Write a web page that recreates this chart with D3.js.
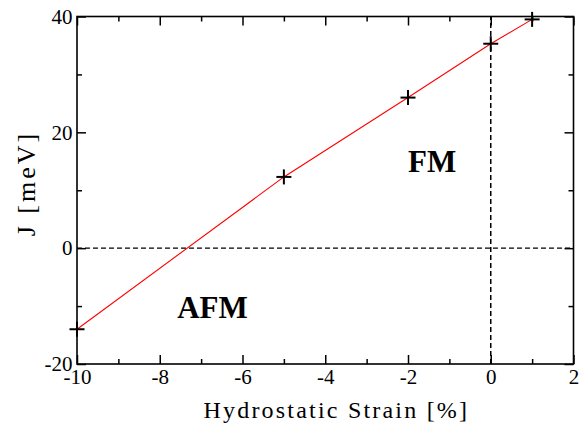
<!DOCTYPE html>
<html>
<head>
<meta charset="utf-8">
<script src="https://cdn.jsdelivr.net/npm/d3@7"></script>
</head>
<body style="margin:0;background:#fff">
<svg id="chart" width="582" height="423" style="display:block"></svg>
<script>
const strain = [-10, -5, -2, 0, 1];
const exchangeJ = [-14.0, 12.3, 26.0, 35.3, 39.5];
const xTicks = [-10, -8, -6, -4, -2, 0, 2];
const yTicks = [-20, 0, 20, 40];
const xMinor = [-9, -7, -5, -3, -1, 1];
const yMinor = [-10, 10, 30];
const regionLabels = [
  { text: "FM", x: -2.0, y: 13.2 },
  { text: "AFM", x: -7.58, y: -12.1 }
];
const xTitle = "Hydrostatic Strain [%]";
const yTitle = "J [meV]";

const FONT = "'Liberation Serif', 'Times New Roman', serif";
const svg = d3.select("#chart");
const L = 77, R = 573.5, T = 16.5, B = 364;
const x = d3.scaleLinear().domain([-10, 2]).range([L, R]);
const y = d3.scaleLinear().domain([-20, 40]).range([B, T]);
const fmt = d => String(d);

// zero reference lines
const dash = "5,3";
svg.append("line").attr("x1", x(-10)).attr("x2", x(2)).attr("y1", y(0)).attr("y2", y(0))
  .attr("stroke", "#000").attr("stroke-width", 1.2).attr("stroke-dasharray", dash);
svg.append("line").attr("x1", x(0)).attr("x2", x(0)).attr("y1", y(-20)).attr("y2", y(40))
  .attr("stroke", "#000").attr("stroke-width", 1.5).attr("stroke-dasharray", dash);

// data line
const pts = strain.map((s, i) => [s, exchangeJ[i]]);
svg.append("path").datum(pts)
  .attr("d", d3.line().x(d => x(d[0])).y(d => y(d[1])))
  .attr("fill", "none").attr("stroke", "#ff0000").attr("stroke-width", 1.1);

// plus markers
const ms = 7.5;
const g = svg.append("g");
pts.forEach(d => {
  const cx = x(d[0]), cy = y(d[1]);
  g.append("line").attr("x1", cx - ms).attr("x2", cx + ms).attr("y1", cy).attr("y2", cy)
    .attr("stroke", "#000").attr("stroke-width", 2);
  g.append("line").attr("x1", cx).attr("x2", cx).attr("y1", cy - ms).attr("y2", cy + ms)
    .attr("stroke", "#000").attr("stroke-width", 2);
});

// axes (ticks inward on all sides)
const major = 9, minor = 5;
const mk = (sel) => sel.call(s => s.select(".domain").remove())
  .selectAll("line").attr("stroke", "#000").attr("stroke-width", 1.5);

svg.append("g").attr("transform", `translate(0,${B})`)
  .call(d3.axisBottom(x).tickValues(xTicks).tickSize(-major).tickFormat(fmt))
  .call(mk).call(s => s.selectAll("text").attr("y", 19.5).attr("dy", null)
    .style("font-family", FONT).style("font-size", "21px"));
svg.append("g").attr("transform", `translate(0,${B})`)
  .call(d3.axisBottom(x).tickValues(xMinor).tickSize(-minor).tickFormat(""))
  .call(mk);
svg.append("g").attr("transform", `translate(0,${T})`)
  .call(d3.axisTop(x).tickValues(xTicks).tickSize(-major).tickFormat(""))
  .call(mk);
svg.append("g").attr("transform", `translate(0,${T})`)
  .call(d3.axisTop(x).tickValues(xMinor).tickSize(-minor).tickFormat(""))
  .call(mk);

svg.append("g").attr("transform", `translate(${L},0)`)
  .call(d3.axisLeft(y).tickValues(yTicks).tickSize(-major).tickFormat(fmt))
  .call(mk).call(s => s.selectAll("text").attr("x", -4.5)
    .style("font-family", FONT).style("font-size", "21px"));
svg.append("g").attr("transform", `translate(${L},0)`)
  .call(d3.axisLeft(y).tickValues(yMinor).tickSize(-minor).tickFormat(""))
  .call(mk);
svg.append("g").attr("transform", `translate(${R},0)`)
  .call(d3.axisRight(y).tickValues(yTicks).tickSize(-major).tickFormat(""))
  .call(mk);
svg.append("g").attr("transform", `translate(${R},0)`)
  .call(d3.axisRight(y).tickValues(yMinor).tickSize(-minor).tickFormat(""))
  .call(mk);

// frame
svg.append("rect").attr("x", L).attr("y", T).attr("width", R - L).attr("height", B - T)
  .attr("fill", "none").attr("stroke", "#000").attr("stroke-width", 1.6);

// region labels
svg.selectAll(".reg").data(regionLabels).enter().append("text")
  .attr("x", d => x(d.x)).attr("y", d => y(d.y))
  .style("font-family", FONT).style("font-size", "31px").style("font-weight", "bold")
  .text(d => d.text);

// axis titles (spaced characters via per-glyph dx)
const spaced = (n, sp) => [0].concat(d3.range(n - 1).map(() => sp)).join(" ");
svg.append("text").attr("x", (L + R) / 2 + 10).attr("y", 418).attr("text-anchor", "middle")
  .attr("dx", spaced(xTitle.length, 2.2))
  .style("font-family", FONT).style("font-size", "24px")
  .text(xTitle);
svg.append("text").attr("transform", `translate(35,185) rotate(-90)`).attr("text-anchor", "middle")
  .attr("dx", spaced(yTitle.length, 3))
  .style("font-family", FONT).style("font-size", "26px")
  .text(yTitle);
</script>
</body>
</html>
